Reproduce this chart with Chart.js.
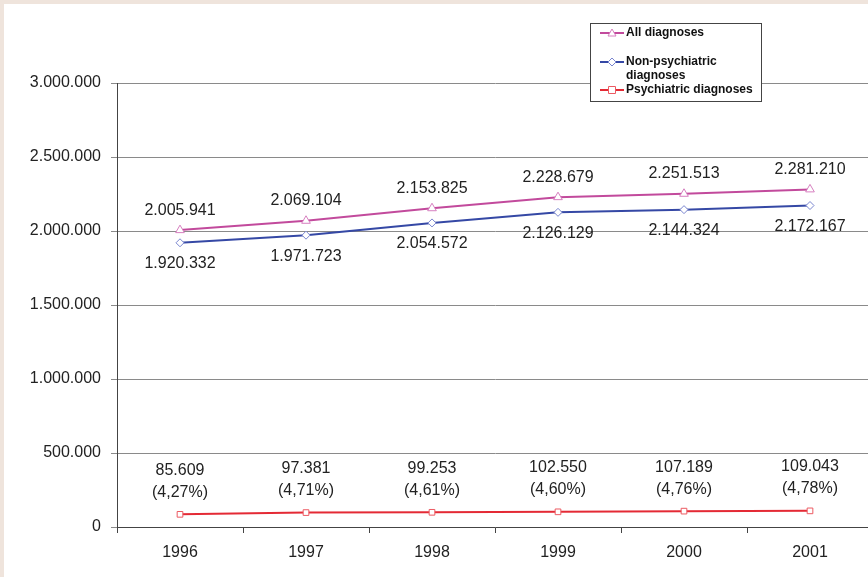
<!DOCTYPE html>
<html>
<head>
<meta charset="utf-8">
<script src="https://cdn.jsdelivr.net/npm/chart.js@4/dist/chart.umd.min.js"></script>
<style>
  html, body { margin: 0; padding: 0; background: #efe4dc; overflow: hidden; }
  #wrap { position: relative; width: 879px; height: 577px; }
</style>
</head>
<body>
<div id="wrap"><canvas id="chart"></canvas></div>
<script>
const years = ["1996", "1997", "1998", "1999", "2000", "2001"];
const allDiagnoses = [2005941, 2069104, 2153825, 2228679, 2251513, 2281210];
const nonPsychiatric = [1920332, 1971723, 2054572, 2126129, 2144324, 2172167];
const psychiatric = [85609, 97381, 99253, 102550, 107189, 109043];
const psychiatricShare = ["4,27%", "4,71%", "4,61%", "4,60%", "4,76%", "4,78%"];

const fmt = (v) => String(v).replace(/\B(?=(\d{3})+(?!\d))/g, ".");

// beige frame + white page
const background = {
  id: "background",
  beforeDraw(chart) {
    const c = chart.ctx;
    c.save();
    c.fillStyle = "#efe4dc";
    c.fillRect(0, 0, chart.width, chart.height);
    c.fillStyle = "#ffffff";
    c.fillRect(4, 4, chart.width - 4, chart.height - 4);
    c.restore();
  }
};

// value labels next to the points
const valueLabels = {
  id: "valueLabels",
  afterDatasetsDraw(chart) {
    const c = chart.ctx;
    c.save();
    c.font = "16px 'Liberation Sans', Arial, sans-serif";
    c.fillStyle = "#222";
    c.textAlign = "center";
    c.textBaseline = "middle";
    chart.getDatasetMeta(0).data.forEach((p, i) => {
      c.fillText(fmt(allDiagnoses[i]), p.x, p.y - 20);
    });
    chart.getDatasetMeta(1).data.forEach((p, i) => {
      c.fillText(fmt(nonPsychiatric[i]), p.x, p.y + 21);
    });
    chart.getDatasetMeta(2).data.forEach((p, i) => {
      c.fillText(fmt(psychiatric[i]), p.x, p.y - 44);
      c.fillText("(" + psychiatricShare[i] + ")", p.x, p.y - 22);
    });
    c.restore();
  }
};

// excel-like legend box
const legendBox = {
  id: "legendBox",
  afterDraw(chart) {
    const c = chart.ctx;
    const x = 590, y = 23, w = 171, h = 78;
    c.save();
    c.fillStyle = "#fff";
    c.fillRect(x, y, w, h);
    c.strokeStyle = "#444";
    c.lineWidth = 1;
    c.strokeRect(x + 0.5, y + 0.5, w, h);
    c.font = "bold 12px 'Liberation Sans', Arial, sans-serif";
    c.textBaseline = "middle";
    const rows = [
      { ds: 0, lines: ["All diagnoses"], y: 33 },
      { ds: 1, lines: ["Non-psychiatric", "diagnoses"], y: 62 },
      { ds: 2, lines: ["Psychiatric diagnoses"], y: 90 }
    ];
    rows.forEach((r) => {
      const d = chart.data.datasets[r.ds];
      c.strokeStyle = d.borderColor;
      c.lineWidth = 2;
      c.beginPath();
      c.moveTo(600, r.y);
      c.lineTo(624, r.y);
      c.stroke();
      c.fillStyle = "#fff";
      c.strokeStyle = d.pointBorderColor;
      c.lineWidth = 1;
      c.beginPath();
      if (d.pointStyle === "triangle") {
        c.moveTo(612, r.y - 4); c.lineTo(616, r.y + 3); c.lineTo(608, r.y + 3); c.closePath();
      } else if (d.pointStyle === "rectRot") {
        c.moveTo(612, r.y - 4); c.lineTo(616, r.y); c.lineTo(612, r.y + 4); c.lineTo(608, r.y); c.closePath();
      } else {
        c.rect(608.5, r.y - 3.5, 7, 7);
      }
      c.fill();
      c.stroke();
      c.fillStyle = "#111";
      r.lines.forEach((t, k) => c.fillText(t, 626, r.y + k * 14));
    });
    c.restore();
  }
};

new Chart(document.getElementById("chart"), {
  type: "line",
  data: {
    labels: years,
    datasets: [
      {
        label: "All diagnoses",
        data: allDiagnoses,
        borderColor: "#c24a9c",
        borderWidth: 2,
        pointStyle: "triangle",
        pointRadius: 5,
        pointBorderWidth: 1,
        pointBorderColor: "#d77fc0",
        pointBackgroundColor: "#fff"
      },
      {
        label: "Non-psychiatric diagnoses",
        data: nonPsychiatric,
        borderColor: "#3548a5",
        borderWidth: 2,
        pointStyle: "rectRot",
        pointRadius: 4,
        pointBorderWidth: 1,
        pointBorderColor: "#7a86d0",
        pointBackgroundColor: "#fff"
      },
      {
        label: "Psychiatric diagnoses",
        data: psychiatric,
        borderColor: "#e42a35",
        borderWidth: 2,
        pointStyle: "rect",
        pointRadius: 4,
        pointBorderWidth: 1,
        pointBorderColor: "#ec5a62",
        pointBackgroundColor: "#fff"
      }
    ]
  },
  options: {
    responsive: true,
    maintainAspectRatio: false,
    animation: false,
    layout: { padding: { top: 83, left: 4, right: 0, bottom: 0 } },
    plugins: {
      legend: { display: false },
      tooltip: { enabled: false }
    },
    scales: {
      x: {
        offset: true,
        grid: {
          offset: true,
          drawOnChartArea: false,
          drawTicks: true,
          tickLength: 6,
          color: "#444"
        },
        border: { color: "#444", width: 1 },
        ticks: {
          color: "#222",
          padding: 10,
          font: { family: "'Liberation Sans', Arial, sans-serif", size: 16 }
        },
        afterFit(scale) { scale.height = 50; }
      },
      y: {
        min: 0,
        max: 3000000,
        ticks: {
          stepSize: 500000,
          color: "#222",
          padding: 10,
          font: { family: "'Liberation Sans', Arial, sans-serif", size: 16 },
          callback: (v) => fmt(v)
        },
        grid: { color: "#8a8a8a", tickLength: 6 },
        border: { color: "#444", width: 1 },
        afterFit(scale) { scale.width = 113; }
      }
    }
  },
  plugins: [background, valueLabels, legendBox]
});
</script>
</body>
</html>
